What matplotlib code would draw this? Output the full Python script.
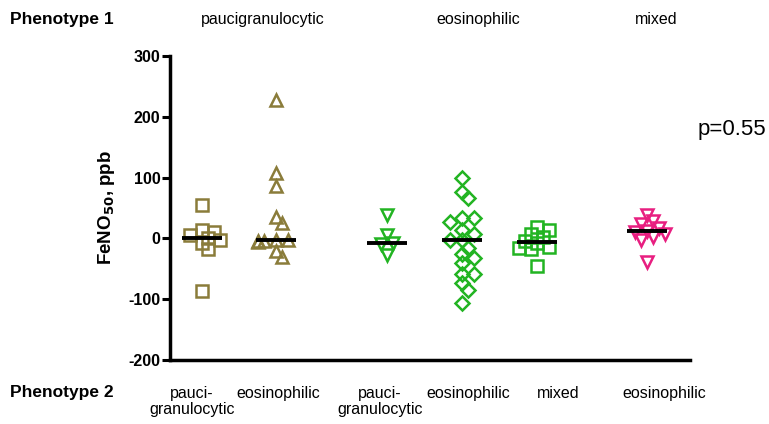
import numpy as np
import matplotlib
matplotlib.use('Agg')
import matplotlib.pyplot as plt

plt.rcParams['font.family'] = ['Liberation Sans', 'DejaVu Sans']
plt.rcParams['axes.unicode_minus'] = False

# Valores FeNO50 (ppb) por grupo
pauci_pauci = [55, 13, 10, 5, 1, -3, -8, -18, -87]
pauci_eos = [228, 108, 86, 35, 25, -2, -3, -4, -5, -6, -20, -30]
eos_pauci = [38, 5, -8, -10, -28]
eos_eos = [100, 77, 66, 34, 33, 27, 14, 7, -3, -3, -16, -25, -32, -41, -58, -58, -74, -85, -107]
eos_mixed = [18, 13, 8, 3, -5, -8, -14, -16, -18, -45]
mixed_eos = [39, 28, 23, 17, 12, 11, 8, 3, -2, -38]

grupos = [pauci_pauci, pauci_eos, eos_pauci, eos_eos, eos_mixed, mixed_eos]
fenotipo1 = ['paucigranulocytic', 'eosinophilic', 'mixed']
fenotipo2 = ['pauci-\ngranulocytic', 'eosinophilic', 'pauci-\ngranulocytic',
             'eosinophilic', 'mixed', 'eosinophilic']
p_valor = 'p=0.55'

# Estilo de cada grupo
colores = ['#8a7c3a', '#8a7c3a', '#22b422', '#22b422', '#22b422', '#e81e80']
marcadores = ['s', '^', 'v', 'D', 's', 'v']
tamanos = [8.5, 8.5, 8.5, 7, 8.5, 8.5]
posiciones = [0.62, 2.04, 4.17, 5.62, 7.06, 9.17]

W, H = 769, 424
fig = plt.figure(figsize=(W / 100, H / 100), dpi=100)
ax = fig.add_axes([170 / W, 1 - 360 / H, 520 / W, 304 / H])
ax.set_xlim(0, 10)
ax.set_ylim(-200, 300)

px_x = 520 / 10
px_y = 304 / 500


def enjambre(vals, paso=6, sep=8):
    # desplazamientos horizontales deterministas para evitar solapes
    puestos = []
    offs = []
    for v in vals:
        y = v * px_y
        for k in [0, 1, -1, 2, -2, 3, -3]:
            x = k * paso
            if all(np.hypot(x - a, y - b) >= sep for a, b in puestos):
                break
        puestos.append((x, y))
        offs.append(x)
    return np.array(offs) / px_x


for vals, c, m, ms, pos in zip(grupos, colores, marcadores, tamanos, posiciones):
    xs = pos + enjambre(vals)
    ax.plot(xs, vals, linestyle='none', marker=m, markersize=ms,
            markerfacecolor='none', markeredgecolor=c, markeredgewidth=1.8,
            zorder=2, clip_on=False)
    med = np.median(vals)
    ax.plot([pos - 20 / px_x, pos + 20 / px_x], [med, med], color='black',
            lw=2.8, zorder=3, solid_capstyle='butt')

ax.spines['top'].set_visible(False)
ax.spines['right'].set_visible(False)
ax.spines['left'].set_linewidth(2.5)
ax.spines['bottom'].set_linewidth(2.5)
ax.set_xticks([])
ax.set_yticks([-200, -100, 0, 100, 200, 300])
ax.tick_params(axis='y', length=6, width=2.2, labelsize=11.5, pad=1)
for t in ax.get_yticklabels():
    t.set_fontweight('bold')
ax.set_ylabel('FeNO$_\\mathbf{50}$, ppb', fontsize=13.5, fontweight='bold', labelpad=8)

# Rótulos de fenotipos
fig.text(10 / W, 1 - 24 / H, 'Phenotype 1', fontsize=12.5, fontweight='bold', va='baseline')
for lab, xp in zip(fenotipo1, [263, 478, 656]):
    fig.text(xp / W, 1 - 24 / H, lab, fontsize=11.5, ha='center', va='baseline')

fig.text(10 / W, 1 - 397 / H, 'Phenotype 2', fontsize=12.5, fontweight='bold', va='baseline')
for lab, xp in zip(fenotipo2, [192, 278, 380, 468, 558, 664]):
    fig.text(xp / W, 1 - 386 / H, lab, fontsize=11.5, ha='center', va='top',
             linespacing=1.05)

fig.text(732 / W, 1 - 130 / H, p_valor, fontsize=16, ha='center', va='center')

fig.savefig('out.png', dpi=100)
